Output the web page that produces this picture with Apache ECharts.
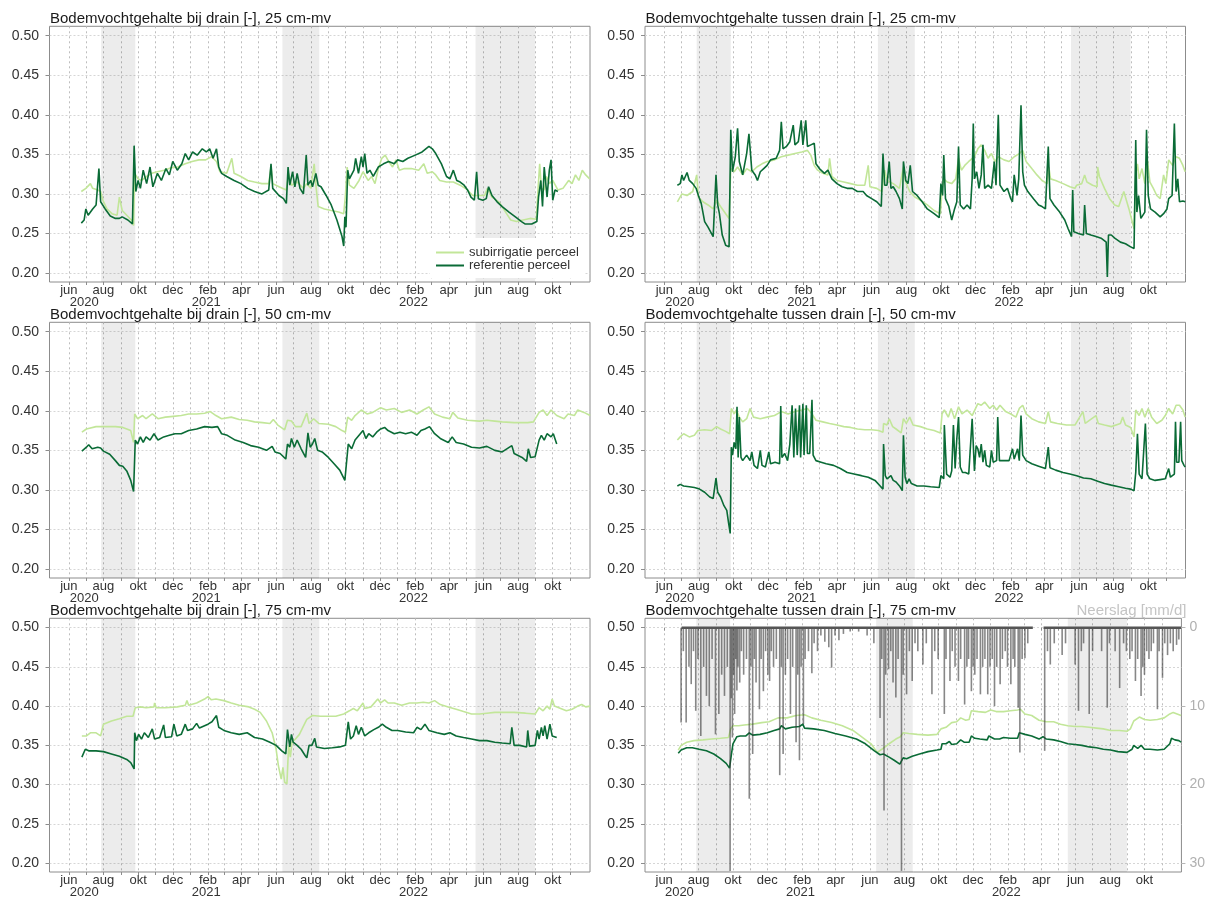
<!DOCTYPE html>
<html><head><meta charset="utf-8">
<script src="https://cdn.jsdelivr.net/npm/echarts@6/dist/echarts.min.js"></script>
<style>html,body{margin:0;padding:0;background:#fff}#c{width:1208px;height:899px}</style>
</head><body><div id="c"></div>
<script>
// ---------- data (x = dagen sinds 2020-06-01) ----------
const startDatum = '2020-06-01';
const maanden = ['jan','feb','mrt','apr','mei','jun','jul','aug','sep','okt','nov','dec'];
const jaarLabels = [['2020-06-28','2020'],['2021-01-29','2021'],['2022-01-29','2022']];
const yTicks = [0.20,0.25,0.30,0.35,0.40,0.45,0.50];
const neerslagTicks = [0,10,20,30];
const irrigatiePeriodes = [['2020-07-28','2020-09-26'],['2021-06-12','2021-08-16'],['2022-05-18','2022-08-31']];
const neerslagPeriodes = [[31,654],[673,917]];

const bij25_sub = [[22,.303],[30,.307],[38,.313],[42,.307],[51,.305],[56,.303],[60,.292],[67,.281],[76,.275],[85,.273],[89,.296],[94,.279],[102,.273],[110,.267],[114,.260],[116,.326],[122,.319],[128,.317],[137,.322],[146,.326],[156,.328],[168,.330],[180,.333],[192,.334],[205,.338],[217,.341],[229,.343],[241,.343],[251,.347],[260,.341],[266,.328],[278,.326],[287,.345],[291,.326],[303,.322],[315,.317],[327,.315],[340,.313],[352,.313],[356,.334],[359,.313],[370,.309],[383,.305],[387,.326],[392,.311],[402,.315],[413,.307],[419,.313],[426,.307],[432,.338],[435,.311],[439,.284],[450,.281],[462,.279],[475,.277],[484,.275],[487,.298],[490,.334],[494,.311],[502,.307],[511,.317],[518,.328],[527,.317],[533,.322],[539,.313],[545,.332],[551,.345],[557,.349],[563,.341],[570,.334],[576,.343],[582,.330],[591,.332],[603,.332],[616,.330],[625,.338],[631,.326],[640,.328],[646,.324],[653,.317],[665,.315],[677,.315],[689,.311],[702,.305],[711,.298],[720,.298],[732,.298],[737,.307],[745,.296],[757,.290],[769,.277],[778,.267],[788,.265],[800,.267],[812,.269],[823,.268],[826,.305],[829,.338],[832,.307],[837,.305],[841,.322],[846,.313],[852,.317],[861,.305],[870,.307],[880,.317],[886,.313],[892,.324],[898,.317],[904,.330],[910,.324],[917,.319]];
const bij25_ref = [[22,.263],[27,.267],[30,.281],[34,.273],[42,.281],[48,.286],[53,.332],[56,.290],[64,.281],[73,.272],[82,.269],[89,.269],[94,.271],[104,.267],[112,.262],[115,.361],[118,.303],[122,.317],[126,.307],[131,.330],[137,.313],[143,.334],[148,.309],[156,.326],[163,.317],[171,.332],[177,.324],[183,.341],[191,.330],[199,.338],[205,.351],[211,.343],[218,.353],[226,.349],[235,.357],[242,.353],[248,.357],[254,.345],[260,.357],[264,.334],[269,.326],[278,.322],[291,.317],[303,.313],[315,.307],[327,.303],[340,.300],[352,.305],[356,.338],[359,.307],[370,.298],[378,.294],[383,.288],[386,.334],[389,.311],[394,.328],[398,.309],[402,.326],[407,.307],[413,.300],[418,.349],[421,.311],[426,.317],[429,.309],[435,.326],[439,.311],[444,.309],[453,.298],[462,.286],[472,.267],[481,.246],[484,.234],[486,.271],[488,.258],[491,.330],[494,.319],[502,.330],[505,.345],[510,.326],[515,.347],[518,.334],[521,.351],[525,.326],[530,.330],[536,.322],[545,.334],[554,.338],[563,.341],[573,.338],[579,.343],[588,.341],[597,.345],[610,.349],[622,.353],[634,.360],[640,.357],[646,.351],[656,.338],[665,.322],[671,.319],[677,.330],[683,.317],[689,.315],[696,.311],[702,.305],[708,.296],[714,.292],[718,.328],[721,.294],[729,.292],[735,.294],[739,.309],[745,.298],[754,.290],[763,.284],[775,.277],[788,.270],[797,.265],[803,.262],[815,.262],[824,.265],[827,.296],[831,.317],[834,.284],[837,.334],[842,.296],[846,.330],[849,.343],[852,.292],[856,.305],[861,.303]];
const tus25_sub = [[23,.290],[31,.300],[40,.298],[50,.303],[57,.324],[60,.296],[68,.290],[77,.286],[86,.281],[92,.292],[99,.284],[108,.275],[114,.269],[117,.332],[123,.328],[129,.334],[138,.324],[145,.332],[154,.328],[163,.334],[172,.338],[181,.341],[194,.343],[206,.347],[218,.349],[230,.351],[242,.353],[252,.355],[258,.349],[264,.336],[270,.330],[279,.326],[288,.324],[291,.345],[295,.322],[304,.317],[316,.315],[328,.313],[340,.311],[353,.311],[359,.336],[362,.309],[374,.307],[383,.303],[388,.330],[392,.317],[403,.313],[414,.307],[421,.334],[425,.315],[432,.303],[441,.296],[451,.292],[463,.286],[475,.279],[486,.275],[489,.305],[492,.319],[498,.315],[506,.313],[513,.319],[518,.345],[523,.330],[529,.336],[536,.341],[546,.347],[552,.357],[558,.362],[564,.355],[570,.345],[576,.351],[582,.341],[588,.347],[598,.343],[607,.341],[616,.347],[625,.351],[631,.355],[637,.341],[647,.332],[656,.324],[665,.317],[674,.313],[677,.334],[680,.319],[689,.317],[702,.313],[714,.309],[723,.307],[726,.311],[735,.313],[740,.324],[744,.315],[754,.311],[762,.309],[763,.334],[766,.322],[775,.307],[784,.294],[793,.286],[800,.284],[809,.303],[818,.281],[827,.256],[830,.324],[833,.338],[836,.319],[841,.332],[846,.313],[850,.345],[855,.315],[861,.307],[867,.298],[873,.294],[879,.324],[883,.313],[888,.343],[895,.336],[901,.347],[907,.345],[913,.336],[917,.328]];
const tus25_ref = [[23,.311],[28,.313],[31,.324],[34,.317],[40,.327],[44,.317],[50,.313],[56,.307],[60,.298],[65,.288],[71,.265],[77,.258],[86,.246],[89,.244],[91,.324],[94,.286],[97,.275],[102,.248],[108,.235],[114,.233],[117,.381],[120,.328],[125,.347],[129,.383],[132,.341],[138,.324],[145,.351],[149,.376],[154,.330],[160,.324],[164,.317],[169,.328],[175,.332],[181,.336],[187,.343],[197,.345],[203,.355],[206,.391],[209,.357],[215,.360],[221,.366],[227,.387],[230,.362],[236,.366],[241,.393],[244,.362],[249,.393],[252,.360],[258,.362],[264,.364],[267,.338],[273,.332],[282,.326],[288,.330],[295,.319],[304,.313],[313,.309],[322,.307],[331,.307],[340,.303],[350,.303],[356,.298],[365,.294],[374,.290],[382,.284],[385,.351],[388,.311],[392,.311],[396,.341],[399,.307],[403,.309],[408,.303],[414,.294],[419,.281],[421,.341],[425,.317],[429,.313],[433,.336],[437,.303],[445,.298],[454,.290],[463,.281],[475,.275],[484,.270],[487,.313],[490,.298],[492,.349],[495,.294],[501,.284],[506,.267],[511,.281],[515,.290],[518,.360],[521,.286],[527,.281],[533,.286],[539,.281],[542,.319],[544,.389],[546,.319],[550,.328],[554,.307],[558,.324],[561,.362],[564,.307],[570,.311],[576,.307],[581,.341],[584,.311],[588,.400],[591,.311],[598,.303],[604,.307],[610,.294],[613,.290],[616,.324],[621,.298],[624,.319],[628,.412],[631,.328],[634,.311],[640,.303],[650,.294],[659,.286],[665,.284],[671,.281],[676,.360],[679,.294],[686,.286],[696,.277],[705,.267],[711,.256],[717,.246],[719,.305],[721,.252],[729,.250],[738,.248],[740,.286],[743,.250],[751,.248],[760,.246],[769,.244],[778,.239],[780,.195],[782,.248],[787,.248],[793,.244],[803,.239],[812,.237],[821,.233],[827,.231],[830,.368],[832,.277],[835,.298],[839,.269],[846,.277],[849,.381],[852,.298],[856,.281],[864,.277],[873,.271],[879,.275],[885,.281],[888,.294],[894,.298],[898,.389],[901,.303],[904,.319],[907,.290],[913,.291],[917,.290]];
const bij50_sub = [[23,.373],[31,.377],[48,.380],[68,.380],[82,.380],[95,.379],[109,.375],[114,.360],[116,.396],[121,.390],[130,.394],[136,.390],[147,.396],[157,.390],[170,.392],[184,.393],[198,.394],[211,.396],[225,.396],[239,.397],[249,.399],[259,.394],[269,.390],[286,.392],[300,.389],[314,.388],[327,.386],[341,.385],[354,.384],[360,.389],[368,.382],[380,.376],[385,.388],[392,.387],[399,.380],[409,.380],[419,.397],[423,.384],[431,.390],[440,.384],[457,.383],[470,.380],[481,.375],[487,.373],[491,.392],[498,.388],[504,.394],[515,.401],[525,.396],[535,.398],[549,.404],[559,.401],[573,.403],[586,.398],[600,.401],[613,.396],[624,.401],[634,.405],[644,.396],[658,.392],[671,.390],[676,.398],[685,.391],[702,.388],[723,.387],[736,.388],[750,.387],[763,.386],[784,.385],[808,.385],[818,.386],[828,.398],[835,.401],[842,.394],[849,.401],[859,.394],[872,.390],[879,.396],[890,.394],[896,.401],[907,.398],[918,.394]];
const bij50_ref = [[23,.349],[31,.354],[35,.357],[41,.352],[51,.354],[56,.353],[61,.349],[72,.345],[82,.337],[89,.331],[95,.330],[102,.324],[109,.312],[114,.298],[116,.297],[117,.363],[121,.358],[126,.367],[131,.360],[136,.367],[143,.363],[150,.371],[157,.363],[167,.367],[177,.369],[187,.371],[198,.371],[211,.375],[225,.377],[239,.380],[252,.379],[262,.380],[269,.371],[279,.369],[293,.363],[307,.360],[320,.356],[334,.354],[348,.350],[358,.355],[363,.348],[372,.346],[382,.339],[385,.358],[389,.354],[392,.365],[397,.354],[402,.363],[409,.352],[417,.341],[421,.372],[425,.354],[429,.358],[433,.365],[438,.350],[446,.348],[457,.341],[467,.333],[477,.325],[486,.312],[489,.310],[492,.358],[498,.352],[504,.363],[511,.369],[518,.375],[523,.365],[528,.371],[535,.367],[542,.373],[549,.377],[556,.379],[562,.375],[573,.371],[583,.373],[593,.371],[603,.373],[613,.369],[620,.375],[627,.377],[635,.380],[644,.371],[654,.365],[668,.360],[675,.367],[682,.360],[695,.358],[709,.354],[723,.353],[736,.355],[750,.350],[763,.348],[780,.356],[784,.346],[798,.341],[806,.336],[809,.352],[813,.341],[821,.342],[828,.363],[832,.369],[837,.363],[842,.371],[849,.367],[853,.371],[859,.358]];
const tus50_sub = [[23,.363],[28,.367],[34,.371],[44,.367],[53,.369],[59,.375],[71,.376],[83,.375],[92,.380],[99,.377],[108,.374],[115,.371],[118,.403],[123,.396],[127,.401],[132,.392],[138,.386],[145,.390],[151,.403],[157,.392],[169,.390],[181,.392],[194,.394],[206,.399],[218,.396],[230,.399],[242,.401],[252,.403],[260,.396],[267,.388],[279,.386],[291,.384],[304,.382],[316,.380],[328,.379],[340,.377],[353,.376],[365,.376],[377,.375],[385,.373],[386,.384],[392,.382],[396,.390],[402,.380],[408,.377],[417,.372],[421,.390],[426,.384],[432,.392],[438,.382],[451,.380],[463,.377],[475,.375],[486,.372],[489,.396],[493,.401],[500,.392],[505,.403],[511,.390],[518,.405],[524,.396],[533,.401],[542,.394],[552,.409],[558,.407],[564,.411],[573,.403],[579,.407],[585,.401],[591,.407],[601,.399],[610,.396],[619,.392],[625,.403],[631,.407],[637,.396],[647,.390],[659,.386],[671,.384],[676,.399],[680,.386],[692,.384],[708,.382],[723,.382],[737,.399],[741,.384],[760,.394],[764,.384],[775,.382],[787,.380],[803,.384],[807,.392],[812,.382],[821,.379],[827,.367],[830,.401],[836,.394],[841,.403],[846,.392],[852,.403],[858,.392],[867,.384],[876,.388],[882,.394],[888,.403],[895,.396],[901,.407],[907,.407],[913,.401],[917,.392]];
const tus50_ref = [[23,.305],[28,.307],[34,.305],[44,.304],[53,.303],[62,.301],[71,.297],[80,.291],[86,.289],[91,.315],[94,.297],[99,.291],[105,.280],[110,.274],[113,.259],[116,.245],[118,.354],[120,.344],[123,.360],[126,.352],[128,.405],[130,.341],[132,.392],[135,.341],[138,.337],[145,.344],[151,.337],[154,.348],[158,.331],[164,.327],[169,.350],[172,.331],[178,.329],[184,.348],[187,.333],[195,.335],[203,.333],[205,.406],[207,.341],[212,.346],[217,.337],[221,.358],[225,.407],[228,.341],[231,.403],[234,.344],[238,.407],[240,.341],[244,.409],[246,.344],[250,.407],[252,.346],[256,.346],[260,.414],[262,.344],[267,.337],[276,.335],[285,.333],[298,.331],[310,.327],[322,.322],[334,.320],[347,.318],[359,.316],[371,.312],[380,.305],[385,.301],[386,.358],[389,.318],[392,.314],[399,.318],[403,.312],[408,.310],[414,.305],[419,.299],[421,.369],[424,.316],[427,.308],[431,.314],[435,.308],[445,.305],[457,.305],[469,.304],[484,.303],[487,.318],[492,.314],[493,.382],[497,.320],[503,.316],[506,.324],[509,.382],[512,.327],[515,.365],[518,.392],[521,.329],[525,.322],[530,.322],[536,.320],[542,.390],[546,.324],[549,.356],[552,.352],[555,.341],[558,.358],[561,.335],[564,.350],[567,.331],[573,.329],[576,.350],[579,.335],[585,.337],[587,.392],[590,.337],[598,.337],[607,.337],[613,.352],[616,.339],[622,.352],[625,.337],[628,.394],[631,.344],[637,.337],[647,.333],[659,.330],[671,.327],[676,.354],[679,.328],[689,.325],[702,.322],[714,.320],[726,.318],[738,.315],[751,.314],[763,.311],[775,.308],[787,.306],[800,.304],[812,.302],[821,.301],[827,.299],[830,.322],[833,.371],[836,.320],[841,.314],[847,.384],[850,.320],[855,.314],[864,.312],[873,.313],[882,.314],[888,.327],[891,.316],[898,.320],[900,.386],[902,.335],[906,.335],[909,.386],[911,.337],[915,.331],[917,.329]];
const bij75_sub = [[23,.362],[31,.362],[38,.366],[48,.366],[56,.362],[61,.377],[75,.381],[89,.384],[102,.387],[113,.387],[117,.398],[126,.399],[136,.398],[150,.399],[151,.404],[154,.398],[170,.398],[191,.399],[205,.401],[208,.407],[211,.401],[225,.404],[239,.409],[245,.412],[251,.408],[259,.409],[273,.407],[286,.404],[300,.401],[317,.399],[327,.396],[337,.392],[348,.381],[358,.366],[365,.345],[369,.324],[374,.307],[377,.322],[380,.303],[384,.301],[387,.350],[390,.335],[393,.354],[399,.358],[406,.364],[412,.373],[419,.383],[429,.388],[443,.387],[457,.387],[470,.387],[484,.390],[494,.394],[501,.397],[508,.394],[518,.404],[521,.397],[532,.399],[544,.409],[549,.404],[556,.408],[562,.404],[573,.404],[586,.401],[600,.404],[613,.404],[624,.405],[634,.404],[644,.407],[654,.402],[668,.399],[682,.396],[695,.393],[709,.390],[723,.390],[736,.391],[750,.392],[763,.392],[784,.392],[804,.391],[821,.390],[828,.398],[835,.394],[842,.400],[847,.396],[851,.409],[855,.400],[866,.397],[876,.394],[886,.396],[896,.400],[903,.402],[910,.399],[918,.400]];
const bij75_ref = [[23,.335],[29,.345],[35,.343],[48,.343],[61,.342],[75,.339],[89,.336],[102,.332],[109,.328],[115,.320],[116,.366],[119,.356],[123,.364],[128,.358],[133,.366],[140,.360],[147,.371],[151,.358],[160,.360],[167,.376],[170,.360],[181,.361],[185,.377],[190,.362],[198,.364],[205,.377],[209,.369],[218,.371],[225,.378],[230,.372],[239,.375],[245,.377],[252,.380],[260,.388],[264,.373],[273,.369],[286,.366],[300,.364],[314,.366],[327,.360],[341,.358],[354,.354],[365,.350],[375,.343],[382,.339],[385,.370],[389,.348],[392,.364],[395,.354],[402,.350],[409,.345],[416,.337],[419,.334],[423,.350],[428,.350],[433,.359],[436,.348],[450,.346],[464,.347],[477,.348],[487,.350],[492,.380],[496,.358],[501,.362],[506,.375],[510,.364],[515,.373],[521,.362],[528,.366],[537,.370],[545,.373],[552,.377],[559,.373],[569,.369],[579,.369],[593,.367],[607,.366],[613,.373],[620,.370],[627,.377],[634,.369],[648,.366],[661,.364],[671,.366],[682,.362],[695,.360],[709,.358],[723,.356],[736,.356],[750,.354],[763,.353],[777,.352],[780,.373],[784,.350],[794,.350],[806,.348],[808,.369],[811,.349],[821,.350],[825,.369],[828,.358],[832,.373],[835,.362],[838,.375],[842,.358],[847,.377],[851,.362],[859,.360]];
const tus75_sub = [[25,.344],[30,.350],[40,.354],[53,.356],[69,.357],[84,.358],[100,.359],[114,.360],[118,.371],[122,.375],[132,.375],[142,.376],[157,.377],[173,.379],[186,.380],[202,.385],[218,.385],[234,.388],[249,.389],[262,.385],[278,.382],[297,.379],[316,.375],[335,.369],[354,.359],[367,.352],[378,.341],[386,.345],[399,.352],[411,.358],[419,.361],[424,.366],[434,.365],[449,.364],[468,.363],[484,.364],[491,.371],[500,.373],[510,.379],[519,.380],[526,.385],[535,.382],[541,.383],[545,.394],[557,.393],[570,.392],[579,.395],[589,.393],[602,.393],[614,.394],[627,.395],[632,.396],[640,.390],[652,.388],[665,.382],[678,.380],[691,.380],[703,.377],[716,.375],[729,.374],[741,.374],[754,.373],[767,.372],[779,.371],[792,.369],[808,.369],[821,.368],[827,.371],[833,.381],[843,.386],[852,.383],[862,.382],[875,.383],[887,.385],[897,.390],[903,.392],[910,.390],[917,.388]];
const tus75_ref = [[25,.340],[30,.344],[40,.347],[50,.347],[62,.345],[75,.343],[88,.339],[100,.333],[110,.327],[116,.321],[119,.337],[122,.352],[129,.361],[135,.362],[145,.362],[151,.366],[157,.363],[170,.364],[183,.366],[195,.369],[205,.371],[208,.375],[215,.371],[227,.373],[240,.374],[246,.377],[249,.372],[265,.371],[284,.369],[303,.365],[322,.362],[341,.358],[357,.352],[373,.343],[383,.338],[389,.339],[399,.335],[408,.331],[418,.326],[421,.324],[424,.334],[430,.333],[440,.336],[453,.339],[468,.342],[484,.344],[491,.345],[493,.352],[500,.352],[506,.355],[510,.351],[519,.352],[526,.357],[532,.354],[541,.354],[545,.362],[551,.359],[560,.358],[573,.357],[576,.362],[586,.358],[595,.358],[602,.360],[614,.359],[627,.359],[630,.366],[640,.364],[652,.362],[665,.358],[672,.361],[678,.358],[691,.357],[703,.355],[716,.352],[729,.351],[741,.350],[754,.348],[767,.347],[779,.345],[792,.344],[805,.342],[821,.341],[830,.345],[833,.350],[840,.346],[846,.350],[852,.345],[862,.345],[875,.344],[887,.345],[897,.352],[900,.359],[906,.357],[913,.356],[917,.354]];
const neerslag = [[30,12.1],[34,3],[39,12.1],[44,5],[48,7.2],[52,3],[56,10.6],[60,4],[65,13.8],[70,5],[75,8.7],[80,10],[85,4],[91,13.6],[97,11],[102,6],[107,8.7],[112,5],[117,31],[119,9],[121,14],[123,6],[125,11],[127,4],[129,8],[131,5],[134,7],[137,3],[141,6],[146,4],[151,21.8],[154,5],[157,16.1],[160,4],[163,7],[169,10.4],[172,4],[176,8.1],[180,3],[184,6],[187,6.8],[190,3],[194,5],[199,4],[205,18.8],[208,5],[211,16.1],[215,6],[219,4],[224,11],[228,5],[234,14.6],[237,6],[240,16.9],[243,5],[247,12.3],[250,4],[256,3],[262,5.8],[266,2],[272,3],[278,1],[285,1.8],[292,2.5],[297,5.1],[303,1],[310,1.6],[318,0.8],[330,0.5],[345,0.5],[360,1],[372,2],[383,11.5],[386,4],[390,23.3],[393,6],[398,5.3],[402,3],[406,7],[411,8.9],[415,4],[421,31],[424,6],[430,8.5],[435,3],[440,6.8],[445,2],[450,3],[459,4.7],[465,2],[475,8.5],[480,3],[486,4],[497,11],[500,4],[507,6.8],[511,3],[516,5],[522,6.8],[526,4],[533,9.8],[537,5],[540,4],[545,8.1],[548,5],[551,6],[555,4],[561,8.5],[565,5],[569,4],[574,8.5],[578,5],[582,4],[586,10],[590,5],[596,7.2],[600,4],[605,3],[609,5],[615,7.2],[619,4],[622,5],[628,10.2],[631,15.9],[635,4],[640,3.9],[645,2],[675,15.7],[680,3],[685,4.7],[692,2],[706,3.5],[712,2],[729,4.7],[735,10.6],[740,3],[744,2],[754,11],[760,3],[776,3],[786,10.2],[790,2],[800,3],[808,7.7],[815,2],[820,3],[826,4],[830,3],[836,6.8],[840,4],[846,8.7],[849,5],[852,6],[856,3],[860,4],[864,3],[868,2],[875,10.4],[878,3],[884,6.4],[888,2],[893,3.5],[898,2],[903,3],[909,2.2],[913,1.5]];

const panelen = [
  {titel:'Bodemvochtgehalte bij drain [-], 25 cm-mv', sub:bij25_sub, ref:bij25_ref},
  {titel:'Bodemvochtgehalte tussen drain [-], 25 cm-mv', sub:tus25_sub, ref:tus25_ref},
  {titel:'Bodemvochtgehalte bij drain [-], 50 cm-mv', sub:bij50_sub, ref:bij50_ref},
  {titel:'Bodemvochtgehalte tussen drain [-], 50 cm-mv', sub:tus50_sub, ref:tus50_ref},
  {titel:'Bodemvochtgehalte bij drain [-], 75 cm-mv', sub:bij75_sub, ref:bij75_ref},
  {titel:'Bodemvochtgehalte tussen drain [-], 75 cm-mv', sub:tus75_sub, ref:tus75_ref}
];

// ---------- layout / styling ----------
const DAG = 86400000;
const t0 = Date.parse(startDatum + 'T00:00:00Z');
const td = d => t0 + d * DAG;
const xMin = td(-34), xMax = td(917.6);
const yMin = 0.1886, yMax = 0.5119;
const pMin = -1.19, pMax = 31.14;
const gridLeft = [49.5, 645], gridW = 540.5, gridTop = [26.3, 322.3, 618.3], gridH = 255.7;
const FONT = 'Liberation Sans, Arial, sans-serif';
const kleurSub = '#c2e699', kleurRef = '#0a6b36';

const maandTicks = [];
for (let y = 2020, m = 5; y < 2022 || (y === 2022 && m <= 10);) {
  maandTicks.push(Date.UTC(y, m, 1)); m++; if (m > 11) { m = 0; y++; }
}
const maandLabels = maandTicks.filter(v => new Date(v).getUTCMonth() % 2 === 1);
const fmtMaand = v => maanden[new Date(v).getUTCMonth()];
const jaarWaarden = jaarLabels.map(j => Date.parse(j[0] + 'T00:00:00Z'));
const fmtJaar = v => { const k = jaarWaarden.indexOf(v); return k >= 0 ? jaarLabels[k][1] : ''; };
const toTs = arr => arr.map(p => [td(p[0]), p[1]]);
const markAreaData = irrigatiePeriodes.map(p => [{xAxis: Date.parse(p[0] + 'T00:00:00Z')}, {xAxis: Date.parse(p[1] + 'T00:00:00Z')}]);

const grids = [], xAxes = [], jaarAxes = [], yAxes = [], titles = [], series = [];
panelen.forEach((p, i) => {
  const col = i % 2, row = Math.floor(i / 2);
  grids.push({left: gridLeft[col], top: gridTop[row], width: gridW, height: gridH, show: true,
    borderColor: '#8c8c8c', borderWidth: 1, backgroundColor: 'transparent', containLabel: false});
  xAxes.push({type: 'value', gridIndex: i, position: 'bottom', min: xMin, max: xMax, scale: true,
    axisLine: {show: false},
    axisTick: {show: true, customValues: maandTicks, length: 3, lineStyle: {color: '#8c8c8c'}},
    axisLabel: {customValues: maandLabels, formatter: fmtMaand, fontSize: 13, color: '#333', margin: 2, fontFamily: FONT},
    splitLine: {show: true, lineStyle: {color: '#bdbdbd', type: [2, 3], width: 1}}});
  jaarAxes.push({type: 'value', gridIndex: i, position: 'bottom', offset: 0, min: xMin, max: xMax, scale: true,
    axisLine: {show: false}, axisTick: {show: false, customValues: jaarWaarden}, splitLine: {show: false},
    axisLabel: {customValues: jaarWaarden, formatter: fmtJaar, fontSize: 13, color: '#333', margin: 14, fontFamily: FONT}});
  yAxes.push({type: 'value', gridIndex: i, min: yMin, max: yMax,
    axisLine: {show: false},
    axisTick: {show: true, customValues: yTicks, length: 4, lineStyle: {color: '#8c8c8c'}},
    axisLabel: {customValues: yTicks, formatter: v => v.toFixed(2), fontSize: 14, color: '#333', margin: 10.5, fontFamily: FONT},
    splitLine: {show: true, lineStyle: {color: '#d6d6d6', type: [2, 2], width: 1}}});
  titles.push({text: p.titel, left: gridLeft[col] + 0.5, top: gridTop[row] - 15, padding: 0,
    textStyle: {fontSize: 15, fontWeight: 'normal', color: '#1a1a1a', fontFamily: FONT}});
  series.push({name: 'subirrigatie perceel', type: 'line', xAxisIndex: i, yAxisIndex: i, data: toTs(p.sub),
    showSymbol: false, color: kleurSub, lineStyle: {width: 1.6, color: kleurSub}, z: 3,
    markArea: {silent: true, itemStyle: {color: 'rgba(0,0,0,0.075)'}, data: markAreaData}});
  series.push({name: 'referentie perceel', type: 'line', xAxisIndex: i, yAxisIndex: i, data: toTs(p.ref),
    showSymbol: false, color: kleurRef, lineStyle: {width: 1.6, color: kleurRef}, z: 4});
});
// neerslag-as (rechts, omgekeerd) in laatste paneel
yAxes.push({type: 'value', gridIndex: 5, position: 'right', inverse: true, min: pMin, max: pMax,
  axisLine: {show: false},
  axisTick: {show: true, customValues: neerslagTicks, length: 4, lineStyle: {color: '#b5b5b5'}},
  axisLabel: {customValues: neerslagTicks, fontSize: 14, color: '#b0b0b0', margin: 8, fontFamily: FONT},
  splitLine: {show: false}});
titles.push({text: 'Neerslag [mm/d]', right: 1208 - (gridLeft[1] + gridW) - 1, top: gridTop[2] - 15, padding: 0,
  textStyle: {fontSize: 15, fontWeight: 'normal', color: '#c4c4c4', fontFamily: FONT}});
series.push({name: 'Neerslag', type: 'bar', xAxisIndex: 5, yAxisIndex: 6, data: toTs(neerslag),
  barWidth: 1.6, itemStyle: {color: 'rgba(55,55,55,0.6)'}, z: 5});
neerslagPeriodes.forEach(pr => {
  series.push({name: 'Neerslag', type: 'line', xAxisIndex: 5, yAxisIndex: 6, data: [[td(pr[0]), 0], [td(pr[1]), 0]],
    showSymbol: false, lineStyle: {width: 2.5, color: '#555'}, z: 5});
});

const chart = echarts.init(document.getElementById('c'), null, {renderer: 'canvas'});
chart.setOption({
  animation: false,
  backgroundColor: '#fff',
  title: titles,
  grid: grids,
  xAxis: xAxes.concat(jaarAxes),
  yAxis: yAxes,
  legend: {data: ['subirrigatie perceel', 'referentie perceel'], orient: 'vertical', left: 430, top: 238,
    backgroundColor: '#fff', padding: [8, 6, 6, 6], icon: 'rect', itemWidth: 28, itemHeight: 2, itemGap: 0,
    selectedMode: false, textStyle: {fontSize: 13, color: '#333', lineHeight: 12, fontFamily: FONT}},
  series: series
});
</script>
</body></html>
